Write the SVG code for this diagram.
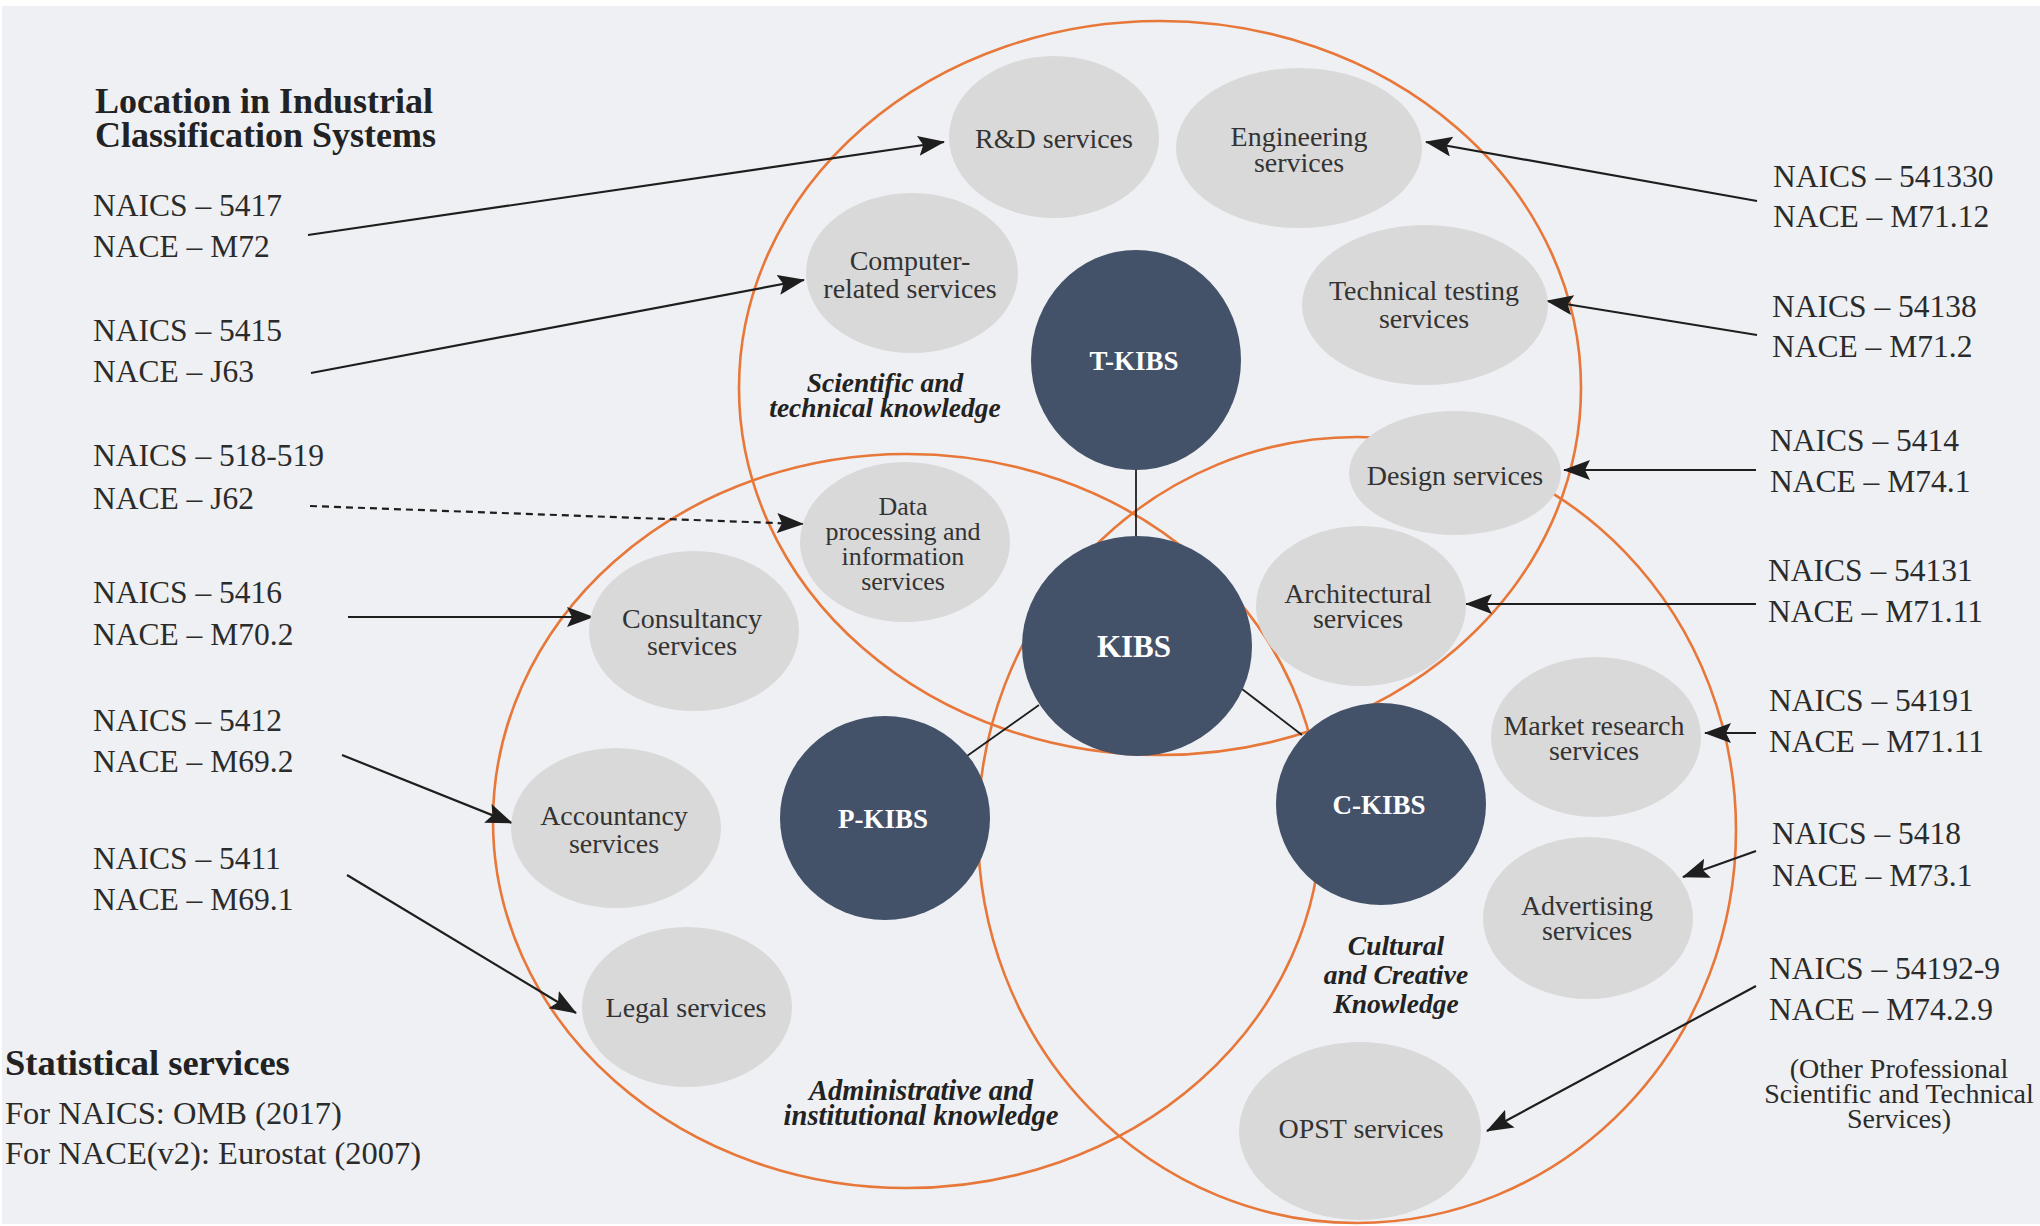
<svg xmlns="http://www.w3.org/2000/svg" width="2040" height="1226" viewBox="0 0 2040 1226">
<defs>
<marker id="ah" markerUnits="userSpaceOnUse" markerWidth="28" markerHeight="22" refX="26" refY="10" orient="auto">
<path d="M0,0 L27,10 L0,20 L5,10 z" fill="#1e1e1e"/>
</marker>
<style>
.bg{fill:#eef0f3}
.ring{fill:none;stroke:#e8773a;stroke-width:2.6}
.svc{fill:#d9d9d9}
.kibs{fill:#435169}
.t{font-family:"Liberation Serif","Times New Roman",serif;fill:#2b2b2b}
.lab{font-size:31.5px}
.nl{font-size:28px;text-anchor:middle;fill:#333}
.dl{font-size:26px}
.kl{font-size:27px;font-weight:bold;text-anchor:middle;fill:#ffffff}
.sec{font-size:27.5px;font-weight:bold;font-style:italic;text-anchor:middle;fill:#222}
.hd{font-weight:bold;fill:#222}
.arr{stroke:#1e1e1e;stroke-width:2.2;fill:none;marker-end:url(#ah)}
.dash{stroke-dasharray:7,5}
.link{stroke:#1e1e1e;stroke-width:1.8;fill:none}
</style>
</defs>
<rect x="0" y="0" width="2040" height="1226" fill="#ffffff"/>
<rect class="bg" x="2" y="6" width="2038" height="1218"/>

<g id="rings">
<ellipse class="ring" cx="1160" cy="388" rx="421" ry="367"/>
<ellipse class="ring" cx="907" cy="821" rx="414" ry="367"/>
<ellipse class="ring" cx="1357" cy="830" rx="379" ry="393"/>
</g>

<g id="connectors">
<line class="link" x1="1136" y1="470" x2="1136" y2="537"/>
<line class="link" x1="1039" y1="705" x2="967" y2="756"/>
<line class="link" x1="1242" y1="689" x2="1302" y2="735"/>
<line class="arr" x1="308" y1="235" x2="944" y2="142"/>
<line class="arr" x1="311" y1="373" x2="804" y2="280"/>
<line class="arr dash" x1="310" y1="506" x2="803" y2="524"/>
<line class="arr" x1="348" y1="617" x2="593" y2="617"/>
<line class="arr" x1="342" y1="755" x2="512" y2="823"/>
<line class="arr" x1="347" y1="875" x2="576" y2="1013"/>
<line class="arr" x1="1757" y1="201" x2="1426" y2="142"/>
<line class="arr" x1="1757" y1="335" x2="1547" y2="301"/>
<line class="arr" x1="1756" y1="470" x2="1564" y2="470"/>
<line class="arr" x1="1756" y1="604" x2="1466" y2="604"/>
<line class="arr" x1="1756" y1="733" x2="1705" y2="733"/>
<line class="arr" x1="1756" y1="851" x2="1683" y2="877"/>
<line class="arr" x1="1756" y1="986" x2="1487" y2="1131"/>
</g>

<g id="n-rd"><ellipse class="svc" cx="1054" cy="137" rx="105" ry="81"/><text class="t nl" x="1054" y="148">R&amp;D services</text></g>
<g id="n-eng"><ellipse class="svc" cx="1299" cy="148" rx="123" ry="80"/><text class="t nl" x="1299" y="146">Engineering</text><text class="t nl" x="1299" y="172">services</text></g>
<g id="n-comp"><ellipse class="svc" cx="912" cy="273" rx="106" ry="80"/><text class="t nl" x="910" y="270">Computer-</text><text class="t nl" x="910" y="298">related services</text></g>
<g id="n-tech"><ellipse class="svc" cx="1425" cy="305" rx="123" ry="80"/><text class="t nl" x="1424" y="300">Technical testing</text><text class="t nl" x="1424" y="328">services</text></g>
<g id="n-design"><ellipse class="svc" cx="1455" cy="473" rx="106" ry="62"/><text class="t nl" x="1455" y="485">Design services</text></g>
<g id="n-data"><ellipse class="svc" cx="905" cy="542" rx="105" ry="80"/><text class="t nl dl" x="903" y="515">Data</text><text class="t nl dl" x="903" y="540">processing and</text><text class="t nl dl" x="903" y="565">information</text><text class="t nl dl" x="903" y="590">services</text></g>
<g id="n-arch"><ellipse class="svc" cx="1361" cy="606" rx="105" ry="80"/><text class="t nl" x="1358" y="603">Architectural</text><text class="t nl" x="1358" y="628">services</text></g>
<g id="n-cons"><ellipse class="svc" cx="694" cy="631" rx="105" ry="80"/><text class="t nl" x="692" y="628">Consultancy</text><text class="t nl" x="692" y="655">services</text></g>
<g id="n-acc"><ellipse class="svc" cx="616" cy="828" rx="105" ry="80"/><text class="t nl" x="614" y="825">Accountancy</text><text class="t nl" x="614" y="853">services</text></g>
<g id="n-legal"><ellipse class="svc" cx="687" cy="1007" rx="105" ry="80"/><text class="t nl" x="686" y="1017">Legal services</text></g>
<g id="n-market"><ellipse class="svc" cx="1596" cy="737" rx="105" ry="80"/><text class="t nl" x="1594" y="735">Market research</text><text class="t nl" x="1594" y="760">services</text></g>
<g id="n-adv"><ellipse class="svc" cx="1588" cy="918" rx="105" ry="81"/><text class="t nl" x="1587" y="915">Advertising</text><text class="t nl" x="1587" y="940">services</text></g>
<g id="n-opst"><ellipse class="svc" cx="1360" cy="1131" rx="121" ry="89"/><text class="t nl" x="1361" y="1138">OPST services</text></g>

<g id="n-tkibs"><ellipse class="kibs" cx="1136" cy="360" rx="105" ry="110"/><text class="t kl" x="1134" y="370">T-KIBS</text></g>
<g id="n-kibs"><ellipse class="kibs" cx="1137" cy="646" rx="115" ry="110"/><text class="t kl" x="1134" y="657" style="font-size:31px">KIBS</text></g>
<g id="n-pkibs"><ellipse class="kibs" cx="885" cy="818" rx="105" ry="102"/><text class="t kl" x="883" y="828">P-KIBS</text></g>
<g id="n-ckibs"><ellipse class="kibs" cx="1381" cy="804" rx="105" ry="101"/><text class="t kl" x="1379" y="814">C-KIBS</text></g>

<g id="sections">
<text class="t sec" x="885" y="392">Scientific and</text>
<text class="t sec" x="885" y="417">technical knowledge</text>
<text class="t sec" x="921" y="1100" style="font-size:28.5px">Administrative and</text>
<text class="t sec" x="921" y="1125" style="font-size:28.5px">institutional knowledge</text>
<text class="t sec" x="1396" y="955">Cultural</text>
<text class="t sec" x="1396" y="984">and Creative</text>
<text class="t sec" x="1396" y="1013">Knowledge</text>
</g>

<g id="titles">
<text class="t hd" x="95" y="113" style="font-size:36px">Location in Industrial</text>
<text class="t hd" x="95" y="147" style="font-size:36px">Classification Systems</text>
<text class="t hd" x="5" y="1075" style="font-size:36.5px">Statistical services</text>
<text class="t" x="5" y="1124" style="font-size:32.5px">For NAICS: OMB (2017)</text>
<text class="t" x="5" y="1164" style="font-size:32.5px">For NACE(v2): Eurostat (2007)</text>
</g>

<g id="left-codes">
<text class="t lab" x="93" y="216">NAICS – 5417</text>
<text class="t lab" x="93" y="257">NACE – M72</text>
<text class="t lab" x="93" y="341">NAICS – 5415</text>
<text class="t lab" x="93" y="382">NACE – J63</text>
<text class="t lab" x="93" y="466">NAICS – 518-519</text>
<text class="t lab" x="93" y="509">NACE – J62</text>
<text class="t lab" x="93" y="603">NAICS – 5416</text>
<text class="t lab" x="93" y="645">NACE – M70.2</text>
<text class="t lab" x="93" y="731">NAICS – 5412</text>
<text class="t lab" x="93" y="772">NACE – M69.2</text>
<text class="t lab" x="93" y="869">NAICS – 5411</text>
<text class="t lab" x="93" y="910">NACE – M69.1</text>
</g>

<g id="right-codes">
<text class="t lab" x="1773" y="187">NAICS – 541330</text>
<text class="t lab" x="1773" y="227">NACE – M71.12</text>
<text class="t lab" x="1772" y="317">NAICS – 54138</text>
<text class="t lab" x="1772" y="357">NACE – M71.2</text>
<text class="t lab" x="1770" y="451">NAICS – 5414</text>
<text class="t lab" x="1770" y="492">NACE – M74.1</text>
<text class="t lab" x="1768" y="581">NAICS – 54131</text>
<text class="t lab" x="1768" y="622">NACE – M71.11</text>
<text class="t lab" x="1769" y="711">NAICS – 54191</text>
<text class="t lab" x="1769" y="752">NACE – M71.11</text>
<text class="t lab" x="1772" y="844">NAICS – 5418</text>
<text class="t lab" x="1772" y="886">NACE – M73.1</text>
<text class="t lab" x="1769" y="979">NAICS – 54192-9</text>
<text class="t lab" x="1769" y="1020">NACE – M74.2.9</text>
<text class="t" x="1899" y="1078" style="font-size:28px;text-anchor:middle">(Other Professional</text>
<text class="t" x="1899" y="1103" style="font-size:28px;text-anchor:middle">Scientific and Technical</text>
<text class="t" x="1899" y="1128" style="font-size:28px;text-anchor:middle">Services)</text>
</g>
</svg>
